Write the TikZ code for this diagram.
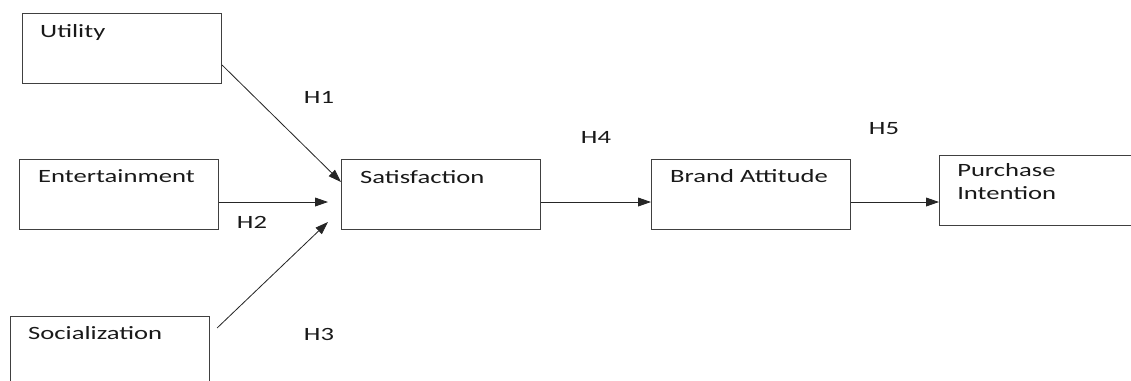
\documentclass[tikz,border=0pt]{standalone}
\usepackage{fontspec}
\setmainfont[FakeStretch=1.42]{Carlito}
\usetikzlibrary{calc,arrows.meta}
\tikzset{
    construct/.style={draw=black!75, line width=0.9pt, anchor=north west, inner sep=0pt,
      minimum width=5.97cm, minimum height=2.1cm},
    caption/.style={anchor=base west, inner sep=0pt, text=black!90, font=\fontsize{16}{19}\selectfont},
    hyp/.style={inner sep=0pt, text=black!90, font=\fontsize{16}{19}\selectfont},
    path/.style={draw=black!85, line width=0.7pt, -{Triangle[length=11pt,width=7.5pt]}},
  }
\begin{document}
\begin{tikzpicture}[x=0.03cm,y=-0.03cm]
				  %pixel grid of the picture, y downwards
				  \clip (0,0) rectangle (1131,380);
				  \node[construct] (Utility) at (22,13) {};
				  \node[construct] (Entertainment) at (19,159) {};
				  \node[construct] (Socialization) at (10,316) {};
				  \node[construct] (Satisfaction) at (341,159) {};
				  \node[construct] (Brand_attitude) at (651,159) {};
				  \node[construct] (Purchase_intention) at (939,155) {};
				  %texts in the boxes
				  \node[caption] (t_utility) at ($(Utility.north west)+(18,24)$) {Utility};
				  \node[caption] (t_entertainment) at ($(Entertainment.north west)+(19,23)$) {Entertainment};
				  \node[caption] (t_socialization) at ($(Socialization.north west)+(18,23)$) {Socialization};
				  \node[caption] (t_satisfaction) at ($(Satisfaction.north west)+(19,24)$) {Satisfaction};
				  \node[caption] (t_brand) at ($(Brand_attitude.north west)+(19,23)$) {Brand Attitude};
				  \node[caption, align=left] (t_purchase) at ($(Purchase_intention.north west)+(18,44)$) {Purchase\\Intention};
				  %hypotheses
				  \node[hyp] (H1) at (319,97) {H1};
				  \node[hyp] (H2) at (252,222) {H2};
				  \node[hyp] (H3) at (319,334) {H3};
				  \node[hyp] (H4) at (596,137) {H4};
				  \node[hyp] (H5) at (884,129) {H5};
				  %free arrow ends
				  \coordinate (h2_end) at (328,202);
				  \coordinate (h3_end) at (328,222);
				  \draw[path] ($(Utility.north east)+(0,52)$) -- ($(Satisfaction.north west)+(0,23)$);
				  \draw[path] ($(Entertainment.north east)+(0,43)$) -- (h2_end);
				  \draw[path] ($(Socialization.north east)+(7,12)$) -- (h3_end);
				  \draw[path] ($(Satisfaction.north east)+(0,43)$) -- ($(Brand_attitude.north west)+(0,43)$);
				  \draw[path] ($(Brand_attitude.north east)+(0,43)$) -- ($(Purchase_intention.north west)+(0,47)$);
				  \end{tikzpicture}
\end{document}
